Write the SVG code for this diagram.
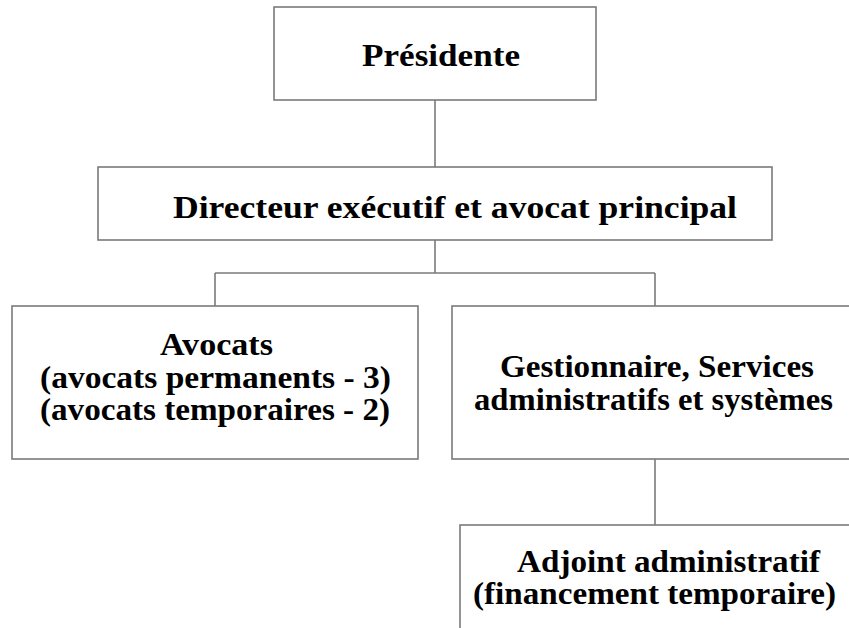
<svg xmlns="http://www.w3.org/2000/svg" width="849" height="628" viewBox="0 0 849 628">
<style>
.box{fill:#ffffff;stroke:#7a7a7a;stroke-width:1.6}
.ln{fill:none;stroke:#7a7a7a;stroke-width:1.6}
text{font-family:"Liberation Serif","Times New Roman",serif;font-weight:bold;font-size:31px;fill:#000000}
</style>
<rect width="849" height="628" fill="#ffffff"/>
<g id="connectors">
<line class="ln" x1="435" y1="100" x2="435" y2="167"/>
<line class="ln" x1="435" y1="240" x2="435" y2="273"/>
<line class="ln" x1="215" y1="273" x2="655" y2="273"/>
<line class="ln" x1="215" y1="273" x2="215" y2="306"/>
<line class="ln" x1="655" y1="273" x2="655" y2="306"/>
<line class="ln" x1="655" y1="459" x2="655" y2="525"/>
</g>
<g id="presidente">
<rect class="box" x="274" y="7" width="322" height="93"/>
<text x="362" y="66" textLength="158" lengthAdjust="spacingAndGlyphs">Présidente</text>
</g>
<g id="directeur">
<rect class="box" x="98" y="167" width="674" height="73"/>
<text x="173" y="218" textLength="564" lengthAdjust="spacingAndGlyphs">Directeur exécutif et avocat principal</text>
</g>
<g id="avocats">
<rect class="box" x="12" y="306" width="406" height="153"/>
<text x="160" y="355" textLength="113" lengthAdjust="spacingAndGlyphs">Avocats</text>
<text x="40" y="388" textLength="351" lengthAdjust="spacingAndGlyphs">(avocats permanents - 3)</text>
<text x="40" y="420" textLength="350" lengthAdjust="spacingAndGlyphs">(avocats temporaires - 2)</text>
</g>
<g id="gestionnaire">
<rect class="box" x="452" y="306" width="410" height="153"/>
<text x="500" y="377" textLength="314" lengthAdjust="spacingAndGlyphs">Gestionnaire, Services</text>
<text x="474" y="410" textLength="359" lengthAdjust="spacingAndGlyphs">administratifs et systèmes</text>
</g>
<g id="adjoint">
<rect class="box" x="460" y="525" width="400" height="120"/>
<text x="517" y="572" textLength="303" lengthAdjust="spacingAndGlyphs">Adjoint administratif</text>
<text x="473" y="604" textLength="363" lengthAdjust="spacingAndGlyphs">(financement temporaire)</text>
</g>
</svg>
